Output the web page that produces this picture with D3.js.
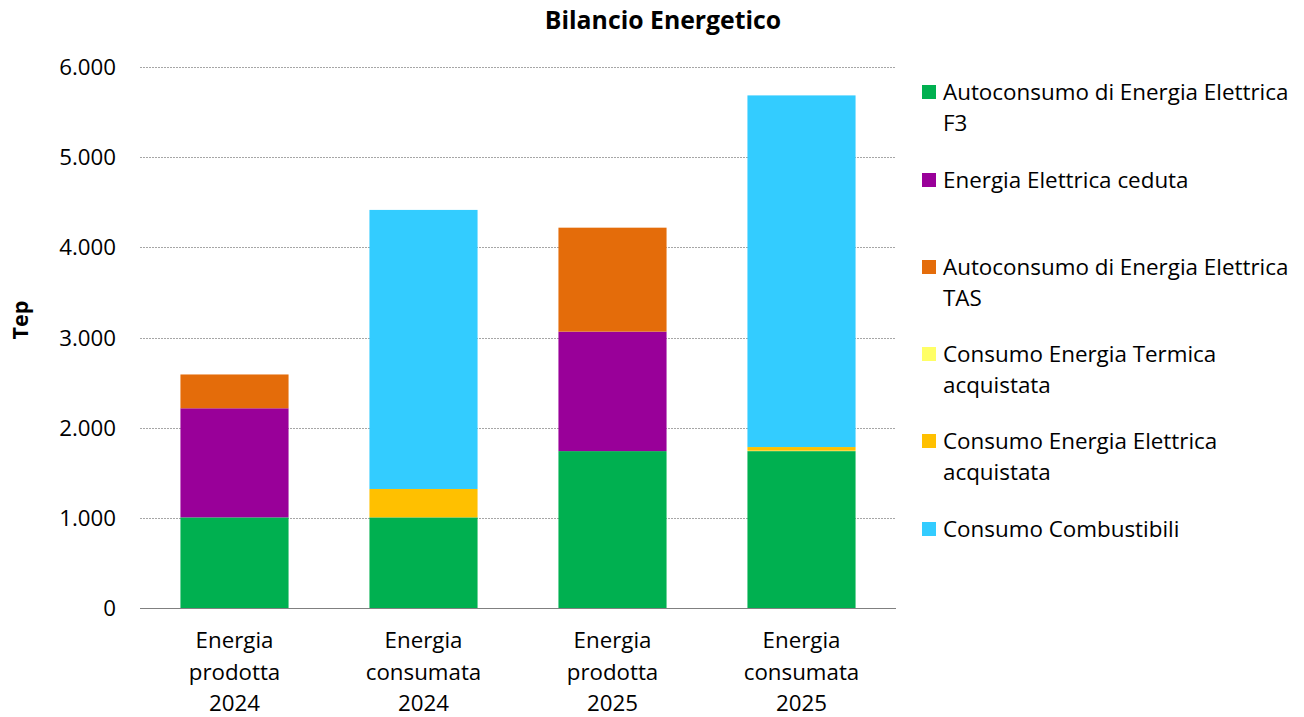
<!DOCTYPE html>
<html><head><meta charset="utf-8">
<script src="https://cdn.jsdelivr.net/npm/d3@7"></script>
<style>
body{margin:0;background:#fff;}
text{font-family:"Open Sans",sans-serif;fill:#000;}
</style></head>
<body><svg id="c" width="1304" height="717"></svg>
<script>
const categories = [["Energia","prodotta","2024"],["Energia","consumata","2024"],["Energia","prodotta","2025"],["Energia","consumata","2025"]];
const seriesNames = [["Autoconsumo di Energia Elettrica","F3"],["Energia Elettrica ceduta"],["Autoconsumo di Energia Elettrica","TAS"],["Consumo Energia Termica","acquistata"],["Consumo Energia Elettrica","acquistata"],["Consumo Combustibili"]];
const colors = ["#00B050","#990099","#E46C0A","#FFFF66","#FFC000","#33CCFF"];
const autoconsumoF3 = [1005, 1005, 1740, 1740];
const energiaCeduta = [1210, 0, 1325, 0];
const autoconsumoTAS = [375, 0, 1153, 0];
const termicaAcquistata = [0, 0, 0, 5];
const elettricaAcquistata = [0, 315, 0, 40];
const combustibili = [0, 3095, 0, 3900];
const yTicks = [0,1000,2000,3000,4000,5000,6000];
const tickLabels = ["0","1.000","2.000","3.000","4.000","5.000","6.000"];
const title = "Bilancio Energetico";
const yTitle = "Tep";

(function(){
const series = [autoconsumoF3, energiaCeduta, autoconsumoTAS, termicaAcquistata, elettricaAcquistata, combustibili];
const svg = d3.select("#c");
const pL = 140, pR = 896, pT = 67, pB = 608;
const x = d3.scaleBand().domain(d3.range(categories.length)).range([pL, pR]).padding(0);
const y = d3.scaleLinear().domain([0, 6000]).range([pB, pT]);
const barW = x.bandwidth() * 0.572;

svg.append("g").selectAll("line").data(yTicks.slice(1)).join("line")
  .attr("x1", pL).attr("x2", pR).attr("y1", d => Math.round(y(d)) + 0.5).attr("y2", d => Math.round(y(d)) + 0.5)
  .attr("stroke", "#A6A6A6").attr("stroke-width", 1).attr("stroke-dasharray", "2,1");

const rows = categories.map((c, i) => { const o = {i}; series.forEach((s, k) => o[k] = s[i]); return o; });
const stack = d3.stack().keys(d3.range(series.length))(rows);
svg.append("g").selectAll("g").data(stack).join("g").attr("fill", (d, k) => colors[k])
  .selectAll("rect").data(d => d).join("rect")
  .attr("x", d => x(d.data.i) + (x.bandwidth() - barW) / 2)
  .attr("width", barW)
  .attr("y", d => y(d[1]))
  .attr("height", d => Math.max(0, y(d[0]) - y(d[1])));

svg.append("line").attr("x1", pL).attr("x2", pR).attr("y1", pB + 0.5).attr("y2", pB + 0.5)
  .attr("stroke", "#808080").attr("stroke-width", 1.2);

svg.append("g").selectAll("text").data(yTicks).join("text")
  .attr("x", 116).attr("y", d => y(d)).attr("dy", "0.36em").attr("text-anchor", "end")
  .style("font-size", "22.3px").text((d, i) => tickLabels[i]);

const cg = svg.append("g").selectAll("text").data(categories).join("text")
  .attr("text-anchor", "middle").style("font-size", "22.3px");
cg.selectAll("tspan").data((d, i) => d.map(t => ({t, i}))).join("tspan")
  .attr("x", d => x(d.i) + x.bandwidth() / 2).attr("y", (d, j) => 648 + j * 31.5).text(d => d.t);

svg.append("text").attr("x", 663).attr("y", 29).attr("text-anchor", "middle")
  .style("font-size", "24.8px").style("font-weight", "bold").text(title);
svg.append("text").attr("transform", "translate(28,320) rotate(-90)").attr("text-anchor", "middle")
  .style("font-size", "21.5px").style("font-weight", "bold").text(yTitle);

const legendY = [92, 180, 267, 354, 441, 529];
const lg = svg.append("g").selectAll("g").data(seriesNames).join("g")
  .attr("transform", (d, k) => `translate(922,${legendY[k]})`);
lg.append("rect").attr("x", 0).attr("y", -7).attr("width", 14).attr("height", 14).attr("fill", (d, k) => colors[k]);
lg.append("text").style("font-size", "22.4px").selectAll("tspan").data(d => d).join("tspan")
  .attr("x", 21).attr("y", (d, j) => 8 + j * 31).text(d => d);
})();
</script></body></html>
